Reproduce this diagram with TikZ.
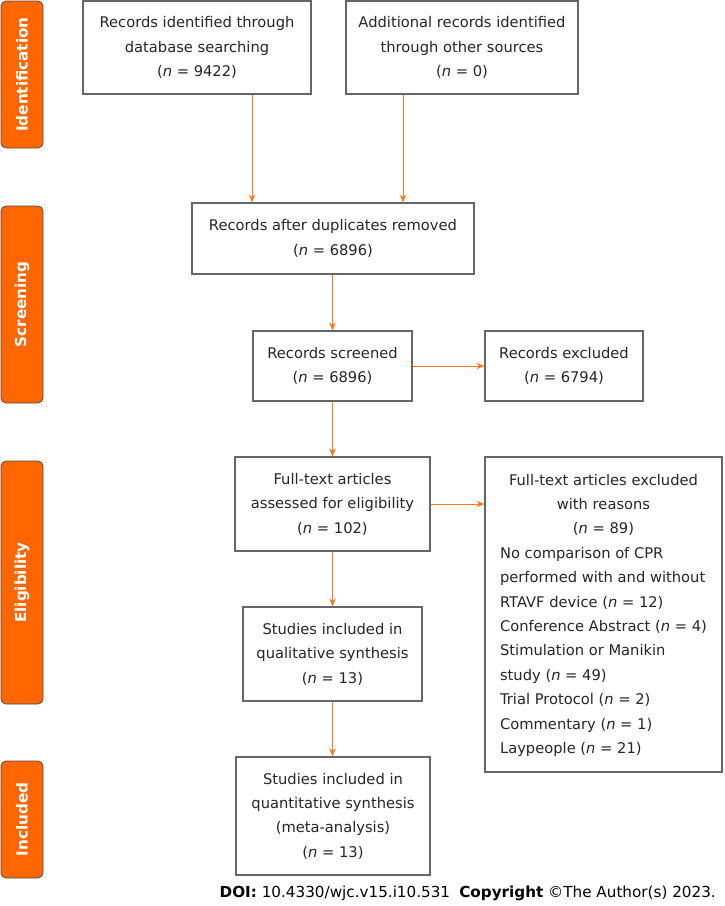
\documentclass[tikz,border=0pt]{standalone}
\usepackage{fontspec}
\setmainfont{DejaVu Sans}
\usetikzlibrary{arrows.meta}
\definecolor{orng}{HTML}{FF6600}
\definecolor{arrc}{HTML}{FF7A1F}
\definecolor{boxc}{HTML}{666666}
\definecolor{sidec}{HTML}{5A4A40}
\newcommand{\nn}{\textit{n}}
\tikzset{
  box/.style={draw=boxc, line width=1.1pt, fill=white, inner sep=0pt, align=center,
    font=\fontsize{14.7}{24.4}\selectfont, text=black!85},
  side/.style={draw=sidec, line width=0.8pt, fill=orng, rounded corners=5pt, rotate=90,
    inner sep=0pt, text=white, font=\fontsize{15.2}{17}\selectfont\bfseries},
  arr/.style={draw=arrc, line width=1pt, -{Stealth[length=8pt,width=6.5pt]}}
}
\begin{document}
\begin{tikzpicture}[x=1pt,y=-1pt]
\useasboundingbox (0,0) rectangle (724,906);
% side labels
\node[side, minimum width=147, minimum height=42] (s1) at (22,74.5) {Identification};
\node[side, minimum width=197, minimum height=42] (s2) at (22,304.5) {Screening};
\node[side, minimum width=243, minimum height=42] (s3) at (22,582.5) {Eligibility};
\node[side, minimum width=117, minimum height=42] (s4) at (22,819.5) {Included};
% boxes
\node[box, minimum width=228, minimum height=93] (b1) at (197,47.5)
  {Records identified through\\database searching\\(\nn{} = 9422)};
\node[box, minimum width=232, minimum height=93] (b2) at (462,47.5)
  {Additional records identified\\through other sources\\(\nn{} = 0)};
\node[box, minimum width=282, minimum height=71] (b3) at (333,238.5)
  {Records after duplicates removed\\(\nn{} = 6896)};
\node[box, minimum width=159, minimum height=70] (b4) at (332.5,366)
  {Records screened\\(\nn{} = 6896)};
\node[box, minimum width=158, minimum height=70] (b5) at (564,366)
  {Records excluded\\(\nn{} = 6794)};
\node[box, minimum width=195, minimum height=94] (b6) at (332.5,504)
  {Full-text articles\\assessed for eligibility\\(\nn{} = 102)};
\node[box, minimum width=237, minimum height=315] (b7) at (603.5,614.5)
  {\begin{tabular}{@{}l@{}}
  \multicolumn{1}{@{}c@{}}{Full-text articles excluded}\\
  \multicolumn{1}{@{}c@{}}{with reasons}\\
  \multicolumn{1}{@{}c@{}}{(\nn{} = 89)}\\
  No comparison of CPR\\
  performed with and without\\
  RTAVF device (\nn{} = 12)\\
  Conference Abstract (\nn{} = 4)\\
  Stimulation or Manikin\\
  study (\nn{} = 49)\\
  Trial Protocol (\nn{} = 2)\\
  Commentary (\nn{} = 1)\\
  Laypeople (\nn{} = 21)
  \end{tabular}};
\node[box, minimum width=179, minimum height=94] (b8) at (332.5,654)
  {Studies included in\\qualitative synthesis\\(\nn{} = 13)};
\node[box, minimum width=194, minimum height=118] (b9) at (333,816)
  {Studies included in\\quantitative synthesis\\(meta-analysis)\\(\nn{} = 13)};
% arrows
\coordinate (c1) at (252,0);
\coordinate (c2) at (403,0);
\draw[arr] (b1.south -| c1) -- (b3.north -| c1);
\draw[arr] (b2.south -| c2) -- (b3.north -| c2);
\draw[arr] (b3.south -| b4) -- (b4.north);
\draw[arr] (b4.east) -- (b5.west);
\draw[arr] (b4.south) -- (b6.north -| b4);
\draw[arr] (b6.east) -- (b6.east -| b7.west);
\draw[arr] (b6.south) -- (b8.north -| b6);
\draw[arr] (b8.south) -- (b9.north -| b8);
% footer
\node[anchor=east, inner sep=0pt, font=\fontsize{15.2}{18}\selectfont, text=black] (doi) at (716,893)
  {\textbf{DOI:} 10.4330/wjc.v15.i10.531\hspace{0.6em}\textbf{Copyright} ©The Author(s) 2023.};
\end{tikzpicture}
\end{document}
